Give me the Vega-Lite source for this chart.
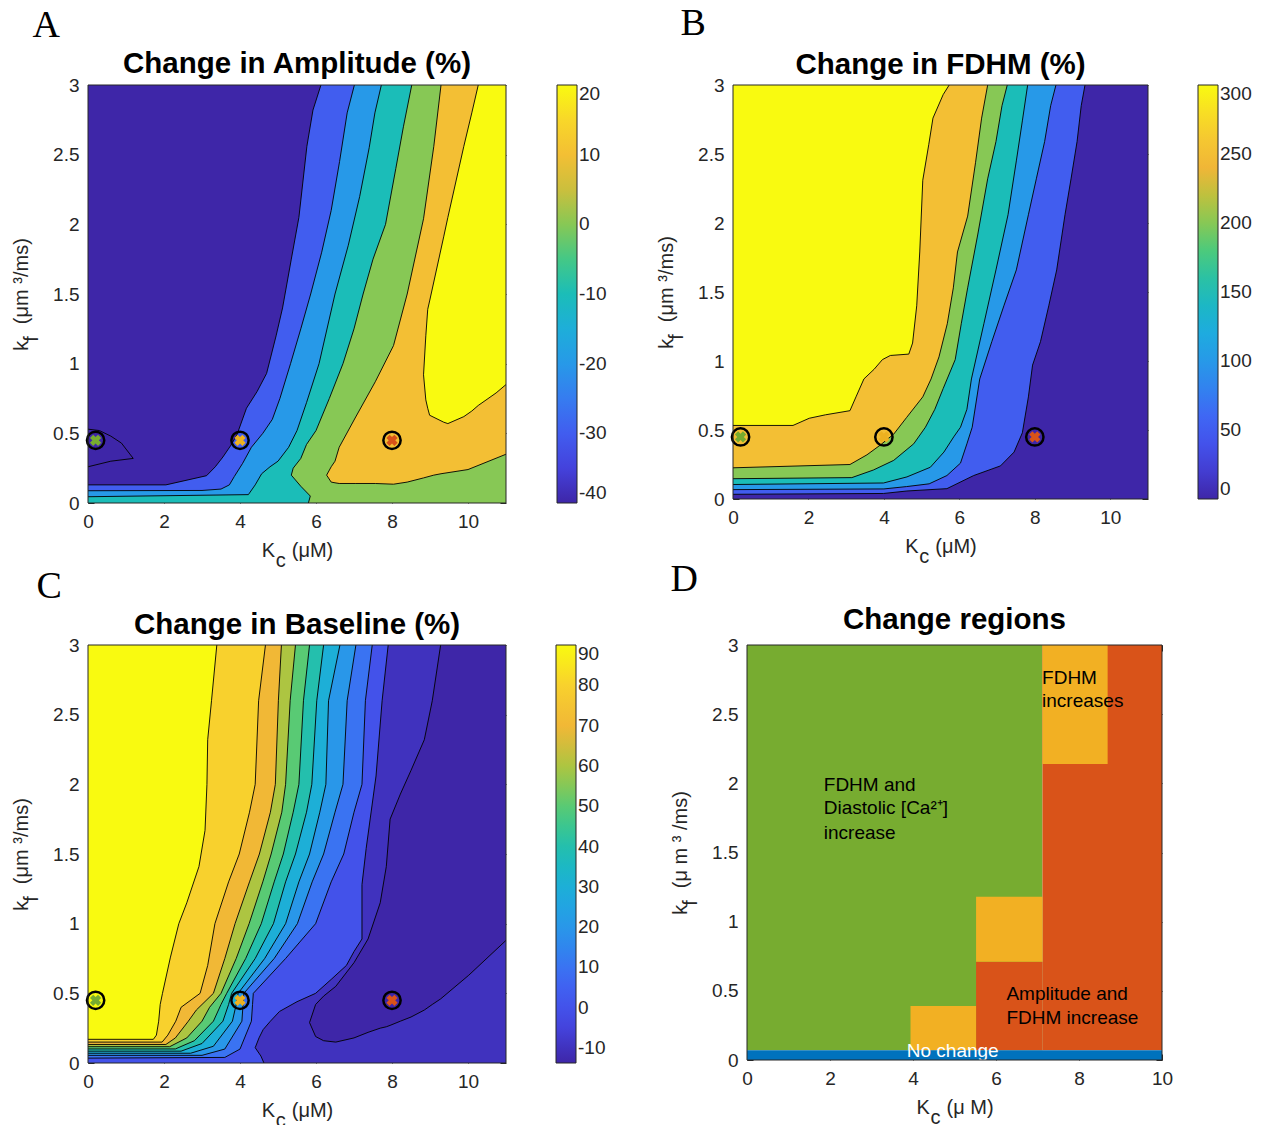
{
"$schema": "https://vega.github.io/schema/vega-lite/v6.json",
"background": "white",
"padding": {"left": 11, "top": 5, "right": 0, "bottom": 0},
"config": {
  "view": {"stroke": null},
  "font": "Liberation Sans",
  "axis": {"labelFont": "Liberation Sans", "labelFontSize": 19, "labelColor": "#262626", "titleFont": "Liberation Sans", "titleFontSize": 20, "titleFontWeight": "normal", "titleColor": "#262626", "domain": false, "ticks": true, "tickColor": "#262626", "tickSize": 6, "offset": -6, "tickWidth": 1, "labelFlush": false, "labelOverlap": false, "zindex": 1, "grid": true, "gridColor": "#ffffff", "gridDash": [1.5, 3], "gridOpacity": 0.7, "gridWidth": 1.2, "titleLineHeight": 10},
  "axisX": {"labelPadding": 9, "titlePadding": 9},
  "axisY": {"labelExpr": "datum.value + ''", "labelPadding": 9, "titlePadding": 11},
  "legend": {"labelFont": "Liberation Sans", "labelFontSize": 19, "labelColor": "#262626", "gradientStrokeColor": "#262626", "gradientStrokeWidth": 1, "labelOverlap": false, "labelBaseline": "middle", "padding": 0, "offset": 49, "gradientThickness": 20, "gradientLength": 418, "labelOffset": 5, "orient": "right", "direction": "vertical"},
  "title": {"font": "Liberation Serif", "fontSize": 38, "fontWeight": "normal", "color": "#000000", "anchor": "start", "frame": "bounds", "offset": 4},
  "line": {"strokeWidth": 0.9}
},
"resolve": {"scale": {"color": "independent", "fill": "independent"}, "legend": {"color": "independent", "fill": "independent"}},
"spacing": -9,
"vconcat": [
 {"spacing": 49,
  "resolve": {"scale": {"color": "independent", "fill": "independent"}, "legend": {"color": "independent", "fill": "independent"}},
  "hconcat": [
  {"width": 418, "height": 418,
   "title": {"text": "A", "dx": 21},
   "resolve": {"axis": {"x": "independent", "y": "independent"}},
   "encoding": {
     "x": {"field": "x", "type": "quantitative", "stack": null, "scale": {"domain": [0, 11], "nice": false, "zero": false}, "axis": {"values": [0, 2, 4, 6, 8, 10], "title": ["K\u00a0\u00a0\u00a0(μM)", "c\u00a0\u00a0\u00a0\u00a0\u00a0\u00a0\u200d"]}},
     "y": {"field": "y", "type": "quantitative", "stack": null, "scale": {"domain": [0, 3], "nice": false, "zero": false}, "axis": {"values": [0, 0.5, 1, 1.5, 2, 2.5, 3], "title": ["k\u00a0\u00a0\u00a0(μm\u00a0³/ms)", "f\u00a0\u00a0\u00a0\u00a0\u00a0\u00a0\u00a0\u00a0\u00a0\u00a0\u00a0\u00a0\u00a0\u00a0\u00a0\u00a0\u200d"]}},
     "color": {"field": "v", "type": "quantitative", "scale": {"domain": [-40, -34, -28, -22, -16, -10, -4, 2, 8, 14, 20], "range": ["#3e26a8", "#4548e6", "#3f67f4", "#2c90ec", "#1eabdf", "#1bbdb8", "#4cca7c", "#a5c742", "#f0b637", "#f8d02e", "#f9fa10"], "interpolate": "rgb"}, "legend": {"title": null, "values": [-40, -30, -20, -10, 0, 10, 20], "labelExpr": "datum.value + ''"}}
   },
   "layer": [
    {"layer": [
     {"data": {"name": "A"}, "transform": [{"filter": "datum.c=='bg'"}], "mark": "area", "encoding": {"y2": {"datum": 0}}},
     {"data": {"name": "A"}, "transform": [{"filter": "datum.c=='c1'"}], "mark": "area", "encoding": {"y2": {"datum": 0}}},
     {"data": {"name": "A"}, "transform": [{"filter": "datum.c=='c2'"}], "mark": "area", "encoding": {"y2": {"datum": 0}}},
     {"data": {"name": "A"}, "transform": [{"filter": "datum.c=='c3'"}], "mark": "area", "encoding": {"y2": {"datum": 0}}},
     {"data": {"name": "A"}, "transform": [{"filter": "datum.c=='c4'"}], "mark": {"type": "area", "orient": "horizontal"}, "encoding": {"x2": {"datum": 11}}},
     {"data": {"name": "A"}, "transform": [{"filter": "datum.c=='c5'"}], "mark": "area", "encoding": {"y2": {"field": "lo"}}},
     {"data": {"name": "A"}, "transform": [{"filter": "datum.c=='c6'"}], "mark": "area", "encoding": {"y2": {"field": "lo"}}},
     {"data": {"name": "A"}, "transform": [{"filter": "indexof(['c1','c2','c3','c5','c6'], datum.c) >= 0 && !datum.e"}], "mark": "line", "encoding": {"detail": {"field": "c"}, "color": {"value": "black"}}},
     {"data": {"name": "A"}, "transform": [{"filter": "indexof(['c4','lp'], datum.c) >= 0"}], "mark": "line", "encoding": {"detail": {"field": "c"}, "order": {"field": "y", "type": "quantitative"}, "color": {"value": "black"}}},
     {"data": {"name": "A"}, "transform": [{"filter": "indexof(['c5','c6'], datum.c) >= 0"}], "mark": "line", "encoding": {"y": {"field": "lo", "type": "quantitative"}, "detail": {"field": "c"}, "color": {"value": "black"}}},
     {"data": {"name": "M"}, "mark": {"type": "point", "shape": "circle", "filled": false, "size": 300, "strokeWidth": 2.5, "opacity": 1}, "encoding": {"color": {"value": "black"}}},
     {"data": {"name": "M"}, "mark": {"type": "point", "shape": "cross", "angle": 45, "filled": true, "size": 130, "strokeWidth": 0, "opacity": 1}, "encoding": {"color": {"value": "black"}, "fill": {"field": "m", "type": "nominal", "scale": {"domain": ["g", "o", "r"], "range": ["#77ac30", "#edb120", "#d95319"]}, "legend": null}}},
     {"data": {"values": [{"x": 5.5, "y": 3, "t": "Change in Amplitude (%)"}]}, "mark": {"type": "text", "fontSize": 29.5, "fontWeight": "bold", "font": "Liberation Sans", "baseline": "alphabetic", "align": "center", "dy": -12}, "encoding": {"text": {"field": "t"}, "color": {"value": "black"}}}
    ]},
    {"data": {"values": [{"x": 0, "x2": 11, "y": 0, "y2": 3}]}, "mark": {"type": "rect", "filled": false, "strokeWidth": 1}, "encoding": {"x": {"field": "x", "type": "quantitative", "axis": {"orient": "top", "labels": false, "title": null, "grid": false, "values": [0, 2, 4, 6, 8, 10]}}, "y": {"field": "y", "type": "quantitative", "axis": {"orient": "right", "labels": false, "title": null, "grid": false, "values": [0, 0.5, 1, 1.5, 2, 2.5, 3]}}, "x2": {"field": "x2"}, "y2": {"field": "y2"}, "color": {"value": "#262626"}}}
   ]
  },
  {"width": 415, "height": 414,
   "title": {"text": "B", "dx": 24, "offset": 7},
   "resolve": {"axis": {"x": "independent", "y": "independent"}},
   "encoding": {
     "x": {"field": "x", "type": "quantitative", "stack": null, "scale": {"domain": [0, 11], "nice": false, "zero": false}, "axis": {"values": [0, 2, 4, 6, 8, 10], "title": ["K\u00a0\u00a0\u00a0(μM)", "c\u00a0\u00a0\u00a0\u00a0\u00a0\u00a0\u200d"]}},
     "y": {"field": "y", "type": "quantitative", "stack": null, "scale": {"domain": [0, 3], "nice": false, "zero": false}, "axis": {"values": [0, 0.5, 1, 1.5, 2, 2.5, 3], "title": ["k\u00a0\u00a0\u00a0(μm\u00a0³/ms)", "f\u00a0\u00a0\u00a0\u00a0\u00a0\u00a0\u00a0\u00a0\u00a0\u00a0\u00a0\u00a0\u00a0\u00a0\u00a0\u00a0\u200d"]}},
     "color": {"field": "v", "type": "quantitative", "scale": {"domain": [0, 30, 60, 90, 120, 150, 180, 210, 240, 270, 300], "range": ["#3e26a8", "#4548e6", "#3f67f4", "#2c90ec", "#1eabdf", "#1bbdb8", "#4cca7c", "#a5c742", "#f0b637", "#f8d02e", "#f9fa10"], "interpolate": "rgb"}, "legend": {"title": null, "values": [0, 50, 100, 150, 200, 250, 300], "gradientLength": 414, "labelExpr": "datum.value + ''"}}
   },
   "layer": [
    {"layer": [
     {"data": {"name": "B"}, "transform": [{"filter": "datum.c=='bg'"}], "mark": "area", "encoding": {"y2": {"datum": 0}}},
     {"data": {"name": "B"}, "transform": [{"filter": "datum.c=='b1'"}], "mark": "area", "encoding": {"y2": {"datum": 0}}},
     {"data": {"name": "B"}, "transform": [{"filter": "datum.c=='b2'"}], "mark": "area", "encoding": {"y2": {"datum": 0}}},
     {"data": {"name": "B"}, "transform": [{"filter": "datum.c=='b3'"}], "mark": "area", "encoding": {"y2": {"datum": 0}}},
     {"data": {"name": "B"}, "transform": [{"filter": "datum.c=='b4'"}], "mark": "area", "encoding": {"y2": {"datum": 0}}},
     {"data": {"name": "B"}, "transform": [{"filter": "datum.c=='b5'"}], "mark": "area", "encoding": {"y2": {"datum": 0}}},
     {"data": {"name": "B"}, "transform": [{"filter": "datum.c=='b6'"}], "mark": "area", "encoding": {"y2": {"datum": 0}}},
     {"data": {"name": "B"}, "transform": [{"filter": "datum.c!='bg' && !datum.e"}], "mark": "line", "encoding": {"detail": {"field": "c"}, "color": {"value": "black"}}},
     {"data": {"name": "M"}, "mark": {"type": "point", "shape": "circle", "filled": false, "size": 300, "strokeWidth": 2.5, "opacity": 1}, "encoding": {"color": {"value": "black"}}},
     {"data": {"name": "M"}, "mark": {"type": "point", "shape": "cross", "angle": 45, "filled": true, "size": 130, "strokeWidth": 0, "opacity": 1}, "encoding": {"color": {"value": "black"}, "fill": {"field": "m", "type": "nominal", "scale": {"domain": ["g", "o", "r"], "range": ["#77ac30", "#edb120", "#d95319"]}, "legend": null}}},
     {"data": {"values": [{"x": 5.5, "y": 3, "t": "Change in FDHM (%)"}]}, "mark": {"type": "text", "fontSize": 29.5, "fontWeight": "bold", "font": "Liberation Sans", "baseline": "alphabetic", "align": "center", "dy": -11}, "encoding": {"text": {"field": "t"}, "color": {"value": "black"}}}
    ]},
    {"data": {"values": [{"x": 0, "x2": 11, "y": 0, "y2": 3}]}, "mark": {"type": "rect", "filled": false, "strokeWidth": 1}, "encoding": {"x": {"field": "x", "type": "quantitative", "axis": {"orient": "top", "labels": false, "title": null, "grid": false, "values": [0, 2, 4, 6, 8, 10]}}, "y": {"field": "y", "type": "quantitative", "axis": {"orient": "right", "labels": false, "title": null, "grid": false, "values": [0, 0.5, 1, 1.5, 2, 2.5, 3]}}, "x2": {"field": "x2"}, "y2": {"field": "y2"}, "color": {"value": "#262626"}}}
   ]
  }
 ]},
 {"spacing": 64,
  "resolve": {"scale": {"color": "independent", "fill": "independent"}, "legend": {"color": "independent", "fill": "independent"}},
  "hconcat": [
  {"width": 418, "height": 418,
   "title": {"text": "C", "dx": 25},
   "resolve": {"axis": {"x": "independent", "y": "independent"}},
   "encoding": {
     "x": {"field": "x", "type": "quantitative", "stack": null, "scale": {"domain": [0, 11], "nice": false, "zero": false}, "axis": {"values": [0, 2, 4, 6, 8, 10], "title": ["K\u00a0\u00a0\u00a0(μM)", "c\u00a0\u00a0\u00a0\u00a0\u00a0\u00a0\u200d"]}},
     "y": {"field": "y", "type": "quantitative", "stack": null, "scale": {"domain": [0, 3], "nice": false, "zero": false}, "axis": {"values": [0, 0.5, 1, 1.5, 2, 2.5, 3], "title": ["k\u00a0\u00a0\u00a0(μm\u00a0³/ms)", "f\u00a0\u00a0\u00a0\u00a0\u00a0\u00a0\u00a0\u00a0\u00a0\u00a0\u00a0\u00a0\u00a0\u00a0\u00a0\u00a0\u200d"]}},
     "color": {"field": "v", "type": "quantitative", "scale": {"domain": [-13.7, -3.33, 7.04, 17.41, 27.78, 38.15, 48.52, 58.89, 69.26, 79.63, 90], "range": ["#3e26a8", "#4548e6", "#3f67f4", "#2c90ec", "#1eabdf", "#1bbdb8", "#4cca7c", "#a5c742", "#f0b637", "#f8d02e", "#f9fa10"], "interpolate": "rgb"}, "legend": {"title": null, "values": [-10, 0, 10, 20, 30, 40, 50, 60, 70, 80, 90], "labelExpr": "datum.value + ''"}}
   },
   "layer": [
    {"layer": [
     {"data": {"name": "C"}, "transform": [{"filter": "datum.c=='bg'"}], "mark": "area", "encoding": {"y2": {"datum": 0}}},
     {"data": {"name": "C"}, "transform": [{"filter": "datum.c=='c1'"}], "mark": "area", "encoding": {"y2": {"datum": 0}}},
     {"data": {"name": "C"}, "transform": [{"filter": "datum.c=='c2'"}], "mark": "area", "encoding": {"y2": {"datum": 0}}},
     {"data": {"name": "C"}, "transform": [{"filter": "datum.c=='c3'"}], "mark": "area", "encoding": {"y2": {"datum": 0}}},
     {"data": {"name": "C"}, "transform": [{"filter": "datum.c=='c4'"}], "mark": "area", "encoding": {"y2": {"datum": 0}}},
     {"data": {"name": "C"}, "transform": [{"filter": "datum.c=='c5'"}], "mark": "area", "encoding": {"y2": {"datum": 0}}},
     {"data": {"name": "C"}, "transform": [{"filter": "datum.c=='c6'"}], "mark": "area", "encoding": {"y2": {"datum": 0}}},
     {"data": {"name": "C"}, "transform": [{"filter": "datum.c=='c7'"}], "mark": "area", "encoding": {"y2": {"datum": 0}}},
     {"data": {"name": "C"}, "transform": [{"filter": "datum.c=='c8'"}], "mark": "area", "encoding": {"y2": {"datum": 0}}},
     {"data": {"name": "C"}, "transform": [{"filter": "datum.c=='c9'"}], "mark": "area", "encoding": {"y2": {"datum": 0}}},
     {"data": {"name": "C"}, "transform": [{"filter": "datum.c=='c10'"}], "mark": {"type": "area", "orient": "horizontal"}, "encoding": {"x2": {"datum": 11}}},
     {"data": {"name": "C"}, "transform": [{"filter": "datum.c=='c11'"}], "mark": "area", "encoding": {"y2": {"field": "lo"}}},
     {"data": {"name": "C"}, "transform": [{"filter": "datum.c!='bg' && datum.c!='c10' && !datum.e"}], "mark": "line", "encoding": {"detail": {"field": "c"}, "color": {"value": "black"}}},
     {"data": {"name": "C"}, "transform": [{"filter": "datum.c=='c10'"}], "mark": "line", "encoding": {"order": {"field": "y", "type": "quantitative"}, "color": {"value": "black"}}},
     {"data": {"name": "C"}, "transform": [{"filter": "datum.c=='c11'"}], "mark": "line", "encoding": {"y": {"field": "lo", "type": "quantitative"}, "color": {"value": "black"}}},
     {"data": {"name": "M"}, "mark": {"type": "point", "shape": "circle", "filled": false, "size": 300, "strokeWidth": 2.5, "opacity": 1}, "encoding": {"color": {"value": "black"}}},
     {"data": {"name": "M"}, "mark": {"type": "point", "shape": "cross", "angle": 45, "filled": true, "size": 130, "strokeWidth": 0, "opacity": 1}, "encoding": {"color": {"value": "black"}, "fill": {"field": "m", "type": "nominal", "scale": {"domain": ["g", "o", "r"], "range": ["#77ac30", "#edb120", "#d95319"]}, "legend": null}}},
     {"data": {"values": [{"x": 5.5, "y": 3, "t": "Change in Baseline (%)"}]}, "mark": {"type": "text", "fontSize": 29.5, "fontWeight": "bold", "font": "Liberation Sans", "baseline": "alphabetic", "align": "center", "dy": -11}, "encoding": {"text": {"field": "t"}, "color": {"value": "black"}}}
    ]},
    {"data": {"values": [{"x": 0, "x2": 11, "y": 0, "y2": 3}]}, "mark": {"type": "rect", "filled": false, "strokeWidth": 1}, "encoding": {"x": {"field": "x", "type": "quantitative", "axis": {"orient": "top", "labels": false, "title": null, "grid": false, "values": [0, 2, 4, 6, 8, 10]}}, "y": {"field": "y", "type": "quantitative", "axis": {"orient": "right", "labels": false, "title": null, "grid": false, "values": [0, 0.5, 1, 1.5, 2, 2.5, 3]}}, "x2": {"field": "x2"}, "y2": {"field": "y2"}, "color": {"value": "#262626"}}}
   ]
  },
  {"width": 415, "height": 415,
   "title": {"text": "D", "dx": 0, "offset": 6},
   "resolve": {"axis": {"x": "independent", "y": "independent"}},
   "encoding": {
     "x": {"field": "x", "type": "quantitative", "scale": {"domain": [0, 10], "nice": false, "zero": false}, "axis": {"values": [0, 2, 4, 6, 8, 10], "grid": false, "title": ["K\u00a0\u00a0\u00a0(μ\u00a0M)", "c\u00a0\u00a0\u00a0\u00a0\u00a0\u00a0\u00a0\u200d"]}},
     "y": {"field": "y", "type": "quantitative", "scale": {"domain": [0, 3], "nice": false, "zero": false}, "axis": {"values": [0, 0.5, 1, 1.5, 2, 2.5, 3], "grid": false, "title": ["k\u00a0\u00a0\u00a0(μ\u00a0m\u00a0³\u00a0/ms)", "f\u00a0\u00a0\u00a0\u00a0\u00a0\u00a0\u00a0\u00a0\u00a0\u00a0\u00a0\u00a0\u00a0\u00a0\u00a0\u00a0\u00a0\u00a0\u200d"]}}
   },
   "layer": [
    {"layer": [
     {"data": {"name": "D"}, "mark": {"type": "rect", "strokeWidth": 0}, "encoding": {"x2": {"field": "x2"}, "y2": {"field": "y2"}, "color": {"field": "k", "type": "nominal", "scale": {"domain": ["b", "g", "o", "r"], "range": ["#0072bd", "#77ac30", "#f2b023", "#d95319"]}, "legend": null}}},
     {"data": {"name": "DL"}, "mark": {"type": "text", "fontSize": 19, "font": "Liberation Sans", "align": "left", "baseline": "middle"}, "encoding": {"text": {"field": "t"}, "color": {"condition": {"test": "datum.t == 'No change'", "value": "white"}, "value": "black"}}},
     {"data": {"values": [{"x": 5, "y": 3, "t": "Change regions"}]}, "mark": {"type": "text", "fontSize": 29.5, "fontWeight": "bold", "font": "Liberation Sans", "baseline": "alphabetic", "align": "center", "dy": -16}, "encoding": {"text": {"field": "t"}, "color": {"value": "black"}}}
    ]},
    {"data": {"values": [{"x": 0, "x2": 10, "y": 0, "y2": 3}]}, "mark": {"type": "rect", "filled": false, "strokeWidth": 1}, "encoding": {"x": {"field": "x", "type": "quantitative", "axis": {"orient": "top", "labels": false, "title": null, "grid": false, "values": [0, 2, 4, 6, 8, 10]}}, "y": {"field": "y", "type": "quantitative", "axis": {"orient": "right", "labels": false, "title": null, "grid": false, "values": [0, 0.5, 1, 1.5, 2, 2.5, 3]}}, "x2": {"field": "x2"}, "y2": {"field": "y2"}, "color": {"value": "#262626"}}}
   ]
  }
 ]}
],
"datasets": {
 "M": [{"x": 0.2, "y": 0.45, "m": "g"}, {"x": 4, "y": 0.45, "m": "o"}, {"x": 8, "y": 0.45, "m": "r"}],
 "A": [
  {"c":"bg","v":-40,"x":0,"y":3},{"c":"bg","v":-40,"x":11,"y":3},
  {"c":"c1","v":-30,"x":0,"y":0.13},{"c":"c1","v":-30,"x":2.05,"y":0.13},{"c":"c1","v":-30,"x":3.12,"y":0.196},{"c":"c1","v":-30,"x":3.35,"y":0.26},{"c":"c1","v":-30,"x":3.55,"y":0.33},{"c":"c1","v":-30,"x":3.75,"y":0.41},{"c":"c1","v":-30,"x":3.92,"y":0.49},{"c":"c1","v":-30,"x":4.17,"y":0.68},{"c":"c1","v":-30,"x":4.45,"y":0.8},{"c":"c1","v":-30,"x":4.7,"y":0.93},{"c":"c1","v":-30,"x":4.95,"y":1.2},{"c":"c1","v":-30,"x":5.12,"y":1.4},{"c":"c1","v":-30,"x":5.35,"y":1.75},{"c":"c1","v":-30,"x":5.55,"y":2.05},{"c":"c1","v":-30,"x":5.76,"y":2.56},{"c":"c1","v":-30,"x":5.92,"y":2.82},{"c":"c1","v":-30,"x":6.13,"y":3},{"c":"c1","v":-30,"x":11,"y":3,"e":1},
  {"c":"c2","v":-20,"x":0,"y":0.088},{"c":"c2","v":-20,"x":3,"y":0.09},{"c":"c2","v":-20,"x":3.5,"y":0.1},{"c":"c2","v":-20,"x":3.72,"y":0.13},{"c":"c2","v":-20,"x":3.85,"y":0.19},{"c":"c2","v":-20,"x":4.07,"y":0.285},{"c":"c2","v":-20,"x":4.3,"y":0.4},{"c":"c2","v":-20,"x":4.6,"y":0.5},{"c":"c2","v":-20,"x":4.85,"y":0.6},{"c":"c2","v":-20,"x":5.05,"y":0.75},{"c":"c2","v":-20,"x":5.33,"y":1.0},{"c":"c2","v":-20,"x":5.6,"y":1.25},{"c":"c2","v":-20,"x":5.86,"y":1.5},{"c":"c2","v":-20,"x":6.15,"y":1.8},{"c":"c2","v":-20,"x":6.4,"y":2.1},{"c":"c2","v":-20,"x":6.62,"y":2.45},{"c":"c2","v":-20,"x":6.82,"y":2.8},{"c":"c2","v":-20,"x":7.01,"y":3},{"c":"c2","v":-20,"x":11,"y":3,"e":1},
  {"c":"c3","v":-10,"x":0,"y":0.045},{"c":"c3","v":-10,"x":4.22,"y":0.06},{"c":"c3","v":-10,"x":4.4,"y":0.13},{"c":"c3","v":-10,"x":4.57,"y":0.21},{"c":"c3","v":-10,"x":4.79,"y":0.26},{"c":"c3","v":-10,"x":5.0,"y":0.3},{"c":"c3","v":-10,"x":5.28,"y":0.4},{"c":"c3","v":-10,"x":5.5,"y":0.52},{"c":"c3","v":-10,"x":5.75,"y":0.72},{"c":"c3","v":-10,"x":6.08,"y":1.0},{"c":"c3","v":-10,"x":6.5,"y":1.5},{"c":"c3","v":-10,"x":6.85,"y":1.85},{"c":"c3","v":-10,"x":7.15,"y":2.2},{"c":"c3","v":-10,"x":7.4,"y":2.55},{"c":"c3","v":-10,"x":7.55,"y":2.8},{"c":"c3","v":-10,"x":7.72,"y":3},{"c":"c3","v":-10,"x":11,"y":3,"e":1},
  {"c":"c4","v":0,"x":5.8,"y":0},{"c":"c4","v":0,"x":5.85,"y":0.05},{"c":"c4","v":0,"x":5.6,"y":0.12},{"c":"c4","v":0,"x":5.35,"y":0.2},{"c":"c4","v":0,"x":5.4,"y":0.25},{"c":"c4","v":0,"x":5.6,"y":0.32},{"c":"c4","v":0,"x":5.75,"y":0.42},{"c":"c4","v":0,"x":6.0,"y":0.52},{"c":"c4","v":0,"x":6.35,"y":0.75},{"c":"c4","v":0,"x":6.71,"y":1.0},{"c":"c4","v":0,"x":7.0,"y":1.25},{"c":"c4","v":0,"x":7.24,"y":1.5},{"c":"c4","v":0,"x":7.5,"y":1.75},{"c":"c4","v":0,"x":7.83,"y":2.0},{"c":"c4","v":0,"x":8.1,"y":2.4},{"c":"c4","v":0,"x":8.3,"y":2.7},{"c":"c4","v":0,"x":8.52,"y":3},
  {"c":"c5","v":10,"x":6.28,"y":0.2,"lo":0.2},{"c":"c5","v":10,"x":6.4,"y":0.26,"lo":0.15},{"c":"c5","v":10,"x":6.5,"y":0.3,"lo":0.145},{"c":"c5","v":10,"x":6.61,"y":0.4,"lo":0.14},{"c":"c5","v":10,"x":7.03,"y":0.61,"lo":0.14},{"c":"c5","v":10,"x":7.56,"y":0.87,"lo":0.14},{"c":"c5","v":10,"x":8.04,"y":1.13,"lo":0.135},{"c":"c5","v":10,"x":8.4,"y":1.5,"lo":0.15},{"c":"c5","v":10,"x":8.83,"y":2.04,"lo":0.18},{"c":"c5","v":10,"x":9.1,"y":2.56,"lo":0.2},{"c":"c5","v":10,"x":9.29,"y":3,"lo":0.21},{"c":"c5","v":10,"x":10,"y":3,"lo":0.24,"e":1},{"c":"c5","v":10,"x":11,"y":3,"lo":0.35,"e":1},
  {"c":"c6","v":20,"x":8.83,"y":0.92,"lo":0.92},{"c":"c6","v":20,"x":8.89,"y":1.2,"lo":0.74},{"c":"c6","v":20,"x":8.94,"y":1.39,"lo":0.68},{"c":"c6","v":20,"x":8.99,"y":1.45,"lo":0.63},{"c":"c6","v":20,"x":9.36,"y":1.91,"lo":0.58},{"c":"c6","v":20,"x":9.47,"y":2.05,"lo":0.57},{"c":"c6","v":20,"x":9.89,"y":2.56,"lo":0.62},{"c":"c6","v":20,"x":10.1,"y":2.8,"lo":0.66},{"c":"c6","v":20,"x":10.27,"y":3,"lo":0.7},{"c":"c6","v":20,"x":10.74,"y":3,"lo":0.79,"e":1},{"c":"c6","v":20,"x":11,"y":3,"lo":0.85,"e":1},
  {"c":"lp","x":0,"y":0.53},{"c":"lp","x":0.3,"y":0.52},{"c":"lp","x":0.6,"y":0.48},{"c":"lp","x":0.88,"y":0.43},{"c":"lp","x":1.19,"y":0.32},{"c":"lp","x":0.6,"y":0.3},{"c":"lp","x":0,"y":0.26}
 ],
 "B": [
  {"c":"bg","v":300,"x":0,"y":3},{"c":"bg","v":300,"x":11,"y":3},
  {"c":"b1","v":250,"x":0,"y":0.533},{"c":"b1","v":250,"x":1.59,"y":0.533},{"c":"b1","v":250,"x":2.02,"y":0.585},{"c":"b1","v":250,"x":2.45,"y":0.61},{"c":"b1","v":250,"x":3.1,"y":0.64},{"c":"b1","v":250,"x":3.26,"y":0.74},{"c":"b1","v":250,"x":3.47,"y":0.87},{"c":"b1","v":250,"x":3.74,"y":0.94},{"c":"b1","v":250,"x":3.96,"y":1.01},{"c":"b1","v":250,"x":4.17,"y":1.04},{"c":"b1","v":250,"x":4.66,"y":1.05},{"c":"b1","v":250,"x":4.76,"y":1.13},{"c":"b1","v":250,"x":4.87,"y":1.4},{"c":"b1","v":250,"x":4.95,"y":1.79},{"c":"b1","v":250,"x":5.03,"y":2.31},{"c":"b1","v":250,"x":5.19,"y":2.57},{"c":"b1","v":250,"x":5.3,"y":2.76},{"c":"b1","v":250,"x":5.57,"y":2.93},{"c":"b1","v":250,"x":5.73,"y":3},{"c":"b1","v":250,"x":11,"y":3,"e":1},
  {"c":"b2","v":200,"x":0,"y":0.226},{"c":"b2","v":200,"x":3.1,"y":0.25},{"c":"b2","v":200,"x":3.55,"y":0.32},{"c":"b2","v":200,"x":3.9,"y":0.39},{"c":"b2","v":200,"x":4.26,"y":0.47},{"c":"b2","v":200,"x":4.6,"y":0.59},{"c":"b2","v":200,"x":5.03,"y":0.74},{"c":"b2","v":200,"x":5.25,"y":0.87},{"c":"b2","v":200,"x":5.46,"y":1.03},{"c":"b2","v":200,"x":5.68,"y":1.27},{"c":"b2","v":200,"x":5.84,"y":1.53},{"c":"b2","v":200,"x":5.95,"y":1.79},{"c":"b2","v":200,"x":6.22,"y":2.05},{"c":"b2","v":200,"x":6.43,"y":2.44},{"c":"b2","v":200,"x":6.59,"y":2.76},{"c":"b2","v":200,"x":6.75,"y":3},{"c":"b2","v":200,"x":11,"y":3,"e":1},
  {"c":"b3","v":150,"x":0,"y":0.147},{"c":"b3","v":150,"x":3.15,"y":0.155},{"c":"b3","v":150,"x":3.72,"y":0.21},{"c":"b3","v":150,"x":4.26,"y":0.28},{"c":"b3","v":150,"x":4.79,"y":0.4},{"c":"b3","v":150,"x":5.1,"y":0.52},{"c":"b3","v":150,"x":5.35,"y":0.65},{"c":"b3","v":150,"x":5.57,"y":0.8},{"c":"b3","v":150,"x":5.89,"y":1.01},{"c":"b3","v":150,"x":6.05,"y":1.27},{"c":"b3","v":150,"x":6.22,"y":1.53},{"c":"b3","v":150,"x":6.49,"y":1.92},{"c":"b3","v":150,"x":6.75,"y":2.32},{"c":"b3","v":150,"x":6.97,"y":2.59},{"c":"b3","v":150,"x":7.13,"y":2.85},{"c":"b3","v":150,"x":7.27,"y":3},{"c":"b3","v":150,"x":11,"y":3,"e":1},
  {"c":"b4","v":100,"x":0,"y":0.105},{"c":"b4","v":100,"x":3.99,"y":0.116},{"c":"b4","v":100,"x":4.61,"y":0.16},{"c":"b4","v":100,"x":5.23,"y":0.23},{"c":"b4","v":100,"x":5.59,"y":0.34},{"c":"b4","v":100,"x":5.85,"y":0.45},{"c":"b4","v":100,"x":6.03,"y":0.52},{"c":"b4","v":100,"x":6.2,"y":0.65},{"c":"b4","v":100,"x":6.32,"y":0.87},{"c":"b4","v":100,"x":6.65,"y":1.27},{"c":"b4","v":100,"x":6.97,"y":1.66},{"c":"b4","v":100,"x":7.29,"y":2.06},{"c":"b4","v":100,"x":7.51,"y":2.45},{"c":"b4","v":100,"x":7.67,"y":2.74},{"c":"b4","v":100,"x":7.81,"y":3},{"c":"b4","v":100,"x":11,"y":3,"e":1},
  {"c":"b5","v":50,"x":0,"y":0.068},{"c":"b5","v":50,"x":4,"y":0.073},{"c":"b5","v":50,"x":4.6,"y":0.09},{"c":"b5","v":50,"x":5.2,"y":0.11},{"c":"b5","v":50,"x":5.67,"y":0.17},{"c":"b5","v":50,"x":6.03,"y":0.26},{"c":"b5","v":50,"x":6.2,"y":0.4},{"c":"b5","v":50,"x":6.34,"y":0.52},{"c":"b5","v":50,"x":6.54,"y":0.87},{"c":"b5","v":50,"x":6.86,"y":1.14},{"c":"b5","v":50,"x":7.18,"y":1.4},{"c":"b5","v":50,"x":7.51,"y":1.66},{"c":"b5","v":50,"x":7.83,"y":2.06},{"c":"b5","v":50,"x":8.04,"y":2.32},{"c":"b5","v":50,"x":8.26,"y":2.59},{"c":"b5","v":50,"x":8.42,"y":2.85},{"c":"b5","v":50,"x":8.56,"y":3},{"c":"b5","v":50,"x":11,"y":3,"e":1},
  {"c":"b6","v":0,"x":0,"y":0.034},{"c":"b6","v":0,"x":3.99,"y":0.04},{"c":"b6","v":0,"x":4.61,"y":0.058},{"c":"b6","v":0,"x":5.67,"y":0.075},{"c":"b6","v":0,"x":6.38,"y":0.17},{"c":"b6","v":0,"x":7.09,"y":0.24},{"c":"b6","v":0,"x":7.45,"y":0.34},{"c":"b6","v":0,"x":7.67,"y":0.48},{"c":"b6","v":0,"x":7.83,"y":0.74},{"c":"b6","v":0,"x":7.94,"y":0.97},{"c":"b6","v":0,"x":8.15,"y":1.14},{"c":"b6","v":0,"x":8.37,"y":1.4},{"c":"b6","v":0,"x":8.58,"y":1.66},{"c":"b6","v":0,"x":8.8,"y":2.06},{"c":"b6","v":0,"x":8.96,"y":2.32},{"c":"b6","v":0,"x":9.12,"y":2.59},{"c":"b6","v":0,"x":9.23,"y":2.85},{"c":"b6","v":0,"x":9.33,"y":3},{"c":"b6","v":0,"x":11,"y":3,"e":1}
 ],
 "C": [
  {"c":"bg","v":90,"x":0,"y":3},{"c":"bg","v":90,"x":11,"y":3},
  {"c":"c1","v":80,"x":0,"y":0.17},{"c":"c1","v":80,"x":1.72,"y":0.17},{"c":"c1","v":80,"x":1.8,"y":0.2},{"c":"c1","v":80,"x":1.86,"y":0.3},{"c":"c1","v":80,"x":1.9,"y":0.42},{"c":"c1","v":80,"x":1.96,"y":0.5},{"c":"c1","v":80,"x":2.17,"y":0.76},{"c":"c1","v":80,"x":2.39,"y":1.0},{"c":"c1","v":80,"x":2.6,"y":1.15},{"c":"c1","v":80,"x":2.92,"y":1.41},{"c":"c1","v":80,"x":3.08,"y":1.67},{"c":"c1","v":80,"x":3.13,"y":2.0},{"c":"c1","v":80,"x":3.15,"y":2.32},{"c":"c1","v":80,"x":3.25,"y":2.6},{"c":"c1","v":80,"x":3.39,"y":3},{"c":"c1","v":80,"x":11,"y":3,"e":1},
  {"c":"c2","v":70,"x":0,"y":0.15},{"c":"c2","v":70,"x":1.95,"y":0.15},{"c":"c2","v":70,"x":2.1,"y":0.2},{"c":"c2","v":70,"x":2.31,"y":0.3},{"c":"c2","v":70,"x":2.45,"y":0.4},{"c":"c2","v":70,"x":2.95,"y":0.5},{"c":"c2","v":70,"x":3.15,"y":0.7},{"c":"c2","v":70,"x":3.34,"y":1.0},{"c":"c2","v":70,"x":3.7,"y":1.3},{"c":"c2","v":70,"x":3.98,"y":1.5},{"c":"c2","v":70,"x":4.25,"y":1.8},{"c":"c2","v":70,"x":4.4,"y":2.0},{"c":"c2","v":70,"x":4.49,"y":2.6},{"c":"c2","v":70,"x":4.67,"y":3},{"c":"c2","v":70,"x":11,"y":3,"e":1},
  {"c":"c3","v":60,"x":0,"y":0.133},{"c":"c3","v":60,"x":2.05,"y":0.133},{"c":"c3","v":60,"x":2.3,"y":0.18},{"c":"c3","v":60,"x":2.64,"y":0.3},{"c":"c3","v":60,"x":2.85,"y":0.38},{"c":"c3","v":60,"x":3.3,"y":0.5},{"c":"c3","v":60,"x":3.6,"y":0.75},{"c":"c3","v":60,"x":3.87,"y":1.0},{"c":"c3","v":60,"x":4.25,"y":1.3},{"c":"c3","v":60,"x":4.51,"y":1.5},{"c":"c3","v":60,"x":4.8,"y":1.8},{"c":"c3","v":60,"x":4.93,"y":2.0},{"c":"c3","v":60,"x":5.01,"y":2.6},{"c":"c3","v":60,"x":5.09,"y":3},{"c":"c3","v":60,"x":11,"y":3,"e":1},
  {"c":"c4","v":50,"x":0,"y":0.117},{"c":"c4","v":50,"x":2.15,"y":0.117},{"c":"c4","v":50,"x":2.6,"y":0.18},{"c":"c4","v":50,"x":3.0,"y":0.3},{"c":"c4","v":50,"x":3.2,"y":0.4},{"c":"c4","v":50,"x":3.5,"y":0.5},{"c":"c4","v":50,"x":3.9,"y":0.75},{"c":"c4","v":50,"x":4.24,"y":1.0},{"c":"c4","v":50,"x":4.6,"y":1.3},{"c":"c4","v":50,"x":4.82,"y":1.5},{"c":"c4","v":50,"x":5.1,"y":1.8},{"c":"c4","v":50,"x":5.2,"y":2.0},{"c":"c4","v":50,"x":5.32,"y":2.6},{"c":"c4","v":50,"x":5.46,"y":3},{"c":"c4","v":50,"x":11,"y":3,"e":1},
  {"c":"c5","v":40,"x":0,"y":0.101},{"c":"c5","v":40,"x":2.3,"y":0.101},{"c":"c5","v":40,"x":2.8,"y":0.16},{"c":"c5","v":40,"x":3.3,"y":0.3},{"c":"c5","v":40,"x":3.5,"y":0.42},{"c":"c5","v":40,"x":3.65,"y":0.5},{"c":"c5","v":40,"x":4.15,"y":0.75},{"c":"c5","v":40,"x":4.56,"y":1.0},{"c":"c5","v":40,"x":4.9,"y":1.3},{"c":"c5","v":40,"x":5.14,"y":1.5},{"c":"c5","v":40,"x":5.4,"y":1.8},{"c":"c5","v":40,"x":5.55,"y":2.0},{"c":"c5","v":40,"x":5.67,"y":2.6},{"c":"c5","v":40,"x":5.83,"y":3},{"c":"c5","v":40,"x":11,"y":3,"e":1},
  {"c":"c6","v":30,"x":0,"y":0.085},{"c":"c6","v":30,"x":2.45,"y":0.085},{"c":"c6","v":30,"x":3.0,"y":0.14},{"c":"c6","v":30,"x":3.55,"y":0.3},{"c":"c6","v":30,"x":3.7,"y":0.42},{"c":"c6","v":30,"x":3.78,"y":0.5},{"c":"c6","v":30,"x":4.4,"y":0.75},{"c":"c6","v":30,"x":4.88,"y":1.0},{"c":"c6","v":30,"x":5.2,"y":1.3},{"c":"c6","v":30,"x":5.46,"y":1.5},{"c":"c6","v":30,"x":5.75,"y":1.8},{"c":"c6","v":30,"x":5.89,"y":2.0},{"c":"c6","v":30,"x":6.02,"y":2.6},{"c":"c6","v":30,"x":6.2,"y":3},{"c":"c6","v":30,"x":11,"y":3,"e":1},
  {"c":"c7","v":20,"x":0,"y":0.07},{"c":"c7","v":20,"x":2.7,"y":0.07},{"c":"c7","v":20,"x":3.3,"y":0.12},{"c":"c7","v":20,"x":3.8,"y":0.3},{"c":"c7","v":20,"x":3.9,"y":0.42},{"c":"c7","v":20,"x":3.95,"y":0.5},{"c":"c7","v":20,"x":4.65,"y":0.75},{"c":"c7","v":20,"x":5.2,"y":1.0},{"c":"c7","v":20,"x":5.55,"y":1.3},{"c":"c7","v":20,"x":5.83,"y":1.5},{"c":"c7","v":20,"x":6.1,"y":1.8},{"c":"c7","v":20,"x":6.26,"y":2.0},{"c":"c7","v":20,"x":6.33,"y":2.6},{"c":"c7","v":20,"x":6.63,"y":3},{"c":"c7","v":20,"x":11,"y":3,"e":1},
  {"c":"c8","v":10,"x":0,"y":0.055},{"c":"c8","v":10,"x":3.0,"y":0.055},{"c":"c8","v":10,"x":3.6,"y":0.1},{"c":"c8","v":10,"x":4.05,"y":0.3},{"c":"c8","v":10,"x":4.08,"y":0.42},{"c":"c8","v":10,"x":4.1,"y":0.5},{"c":"c8","v":10,"x":4.9,"y":0.75},{"c":"c8","v":10,"x":5.51,"y":1.0},{"c":"c8","v":10,"x":5.9,"y":1.3},{"c":"c8","v":10,"x":6.2,"y":1.5},{"c":"c8","v":10,"x":6.5,"y":1.8},{"c":"c8","v":10,"x":6.71,"y":2.0},{"c":"c8","v":10,"x":6.82,"y":2.6},{"c":"c8","v":10,"x":7.05,"y":3},{"c":"c8","v":10,"x":11,"y":3,"e":1},
  {"c":"c9","v":0,"x":0,"y":0.035},{"c":"c9","v":0,"x":3.6,"y":0.04},{"c":"c9","v":0,"x":4.0,"y":0.1},{"c":"c9","v":0,"x":4.3,"y":0.3},{"c":"c9","v":0,"x":4.33,"y":0.42},{"c":"c9","v":0,"x":4.35,"y":0.5},{"c":"c9","v":0,"x":5.2,"y":0.75},{"c":"c9","v":0,"x":5.99,"y":1.0},{"c":"c9","v":0,"x":6.4,"y":1.3},{"c":"c9","v":0,"x":6.73,"y":1.5},{"c":"c9","v":0,"x":7.0,"y":1.8},{"c":"c9","v":0,"x":7.21,"y":2.0},{"c":"c9","v":0,"x":7.3,"y":2.6},{"c":"c9","v":0,"x":7.48,"y":3},{"c":"c9","v":0,"x":11,"y":3,"e":1},
  {"c":"c10","v":-10,"x":4.63,"y":0},{"c":"c10","v":-10,"x":4.55,"y":0.05},{"c":"c10","v":-10,"x":4.4,"y":0.11},{"c":"c10","v":-10,"x":4.5,"y":0.18},{"c":"c10","v":-10,"x":4.61,"y":0.24},{"c":"c10","v":-10,"x":4.8,"y":0.3},{"c":"c10","v":-10,"x":5.04,"y":0.37},{"c":"c10","v":-10,"x":5.5,"y":0.44},{"c":"c10","v":-10,"x":5.99,"y":0.5},{"c":"c10","v":-10,"x":6.4,"y":0.6},{"c":"c10","v":-10,"x":6.8,"y":0.7},{"c":"c10","v":-10,"x":7.0,"y":0.8},{"c":"c10","v":-10,"x":7.21,"y":0.89},{"c":"c10","v":-10,"x":7.21,"y":1.28},{"c":"c10","v":-10,"x":7.32,"y":1.54},{"c":"c10","v":-10,"x":7.58,"y":2.06},{"c":"c10","v":-10,"x":7.74,"y":2.6},{"c":"c10","v":-10,"x":7.9,"y":3},
  {"c":"c11","v":-13.7,"x":5.83,"y":0.29,"lo":0.29},{"c":"c11","v":-13.7,"x":5.99,"y":0.42,"lo":0.19},{"c":"c11","v":-13.7,"x":6.2,"y":0.48,"lo":0.16},{"c":"c11","v":-13.7,"x":6.52,"y":0.55,"lo":0.15},{"c":"c11","v":-13.7,"x":7.0,"y":0.72,"lo":0.18},{"c":"c11","v":-13.7,"x":7.37,"y":0.89,"lo":0.22},{"c":"c11","v":-13.7,"x":7.69,"y":1.15,"lo":0.25},{"c":"c11","v":-13.7,"x":7.85,"y":1.41,"lo":0.26},{"c":"c11","v":-13.7,"x":7.95,"y":1.75,"lo":0.27},{"c":"c11","v":-13.7,"x":8.22,"y":1.93,"lo":0.3},{"c":"c11","v":-13.7,"x":8.5,"y":2.1,"lo":0.33},{"c":"c11","v":-13.7,"x":8.85,"y":2.32,"lo":0.38},{"c":"c11","v":-13.7,"x":9.06,"y":2.6,"lo":0.42},{"c":"c11","v":-13.7,"x":9.28,"y":3,"lo":0.46},{"c":"c11","v":-13.7,"x":10.02,"y":3,"lo":0.63,"e":1},{"c":"c11","v":-13.7,"x":11,"y":3,"lo":0.88,"e":1}
 ],
 "D": [
  {"k":"g","x":0,"x2":7.12,"y":0.07,"y2":3},
  {"k":"r","x":7.12,"x2":10,"y":0.07,"y2":3},
  {"k":"r","x":5.52,"x2":7.12,"y":0.07,"y2":0.71},
  {"k":"o","x":3.94,"x2":5.52,"y":0.07,"y2":0.39},
  {"k":"o","x":5.52,"x2":7.12,"y":0.71,"y2":1.18},
  {"k":"o","x":7.12,"x2":8.69,"y":2.14,"y2":3},
  {"k":"b","x":0,"x2":10,"y":0,"y2":0.07}
 ],
 "DL": [
  {"x":1.85,"y":1.99,"t":"FDHM and"},
  {"x":1.85,"y":1.82,"t":"Diastolic [Ca²⁺]"},
  {"x":1.85,"y":1.64,"t":"increase"},
  {"x":7.11,"y":2.76,"t":"FDHM"},
  {"x":7.11,"y":2.595,"t":"increases"},
  {"x":6.25,"y":0.479,"t":"Amplitude and"},
  {"x":6.25,"y":0.307,"t":"FDHM increase"},
  {"x":3.85,"y":0.062,"t":"No change"}
 ]
}
}
